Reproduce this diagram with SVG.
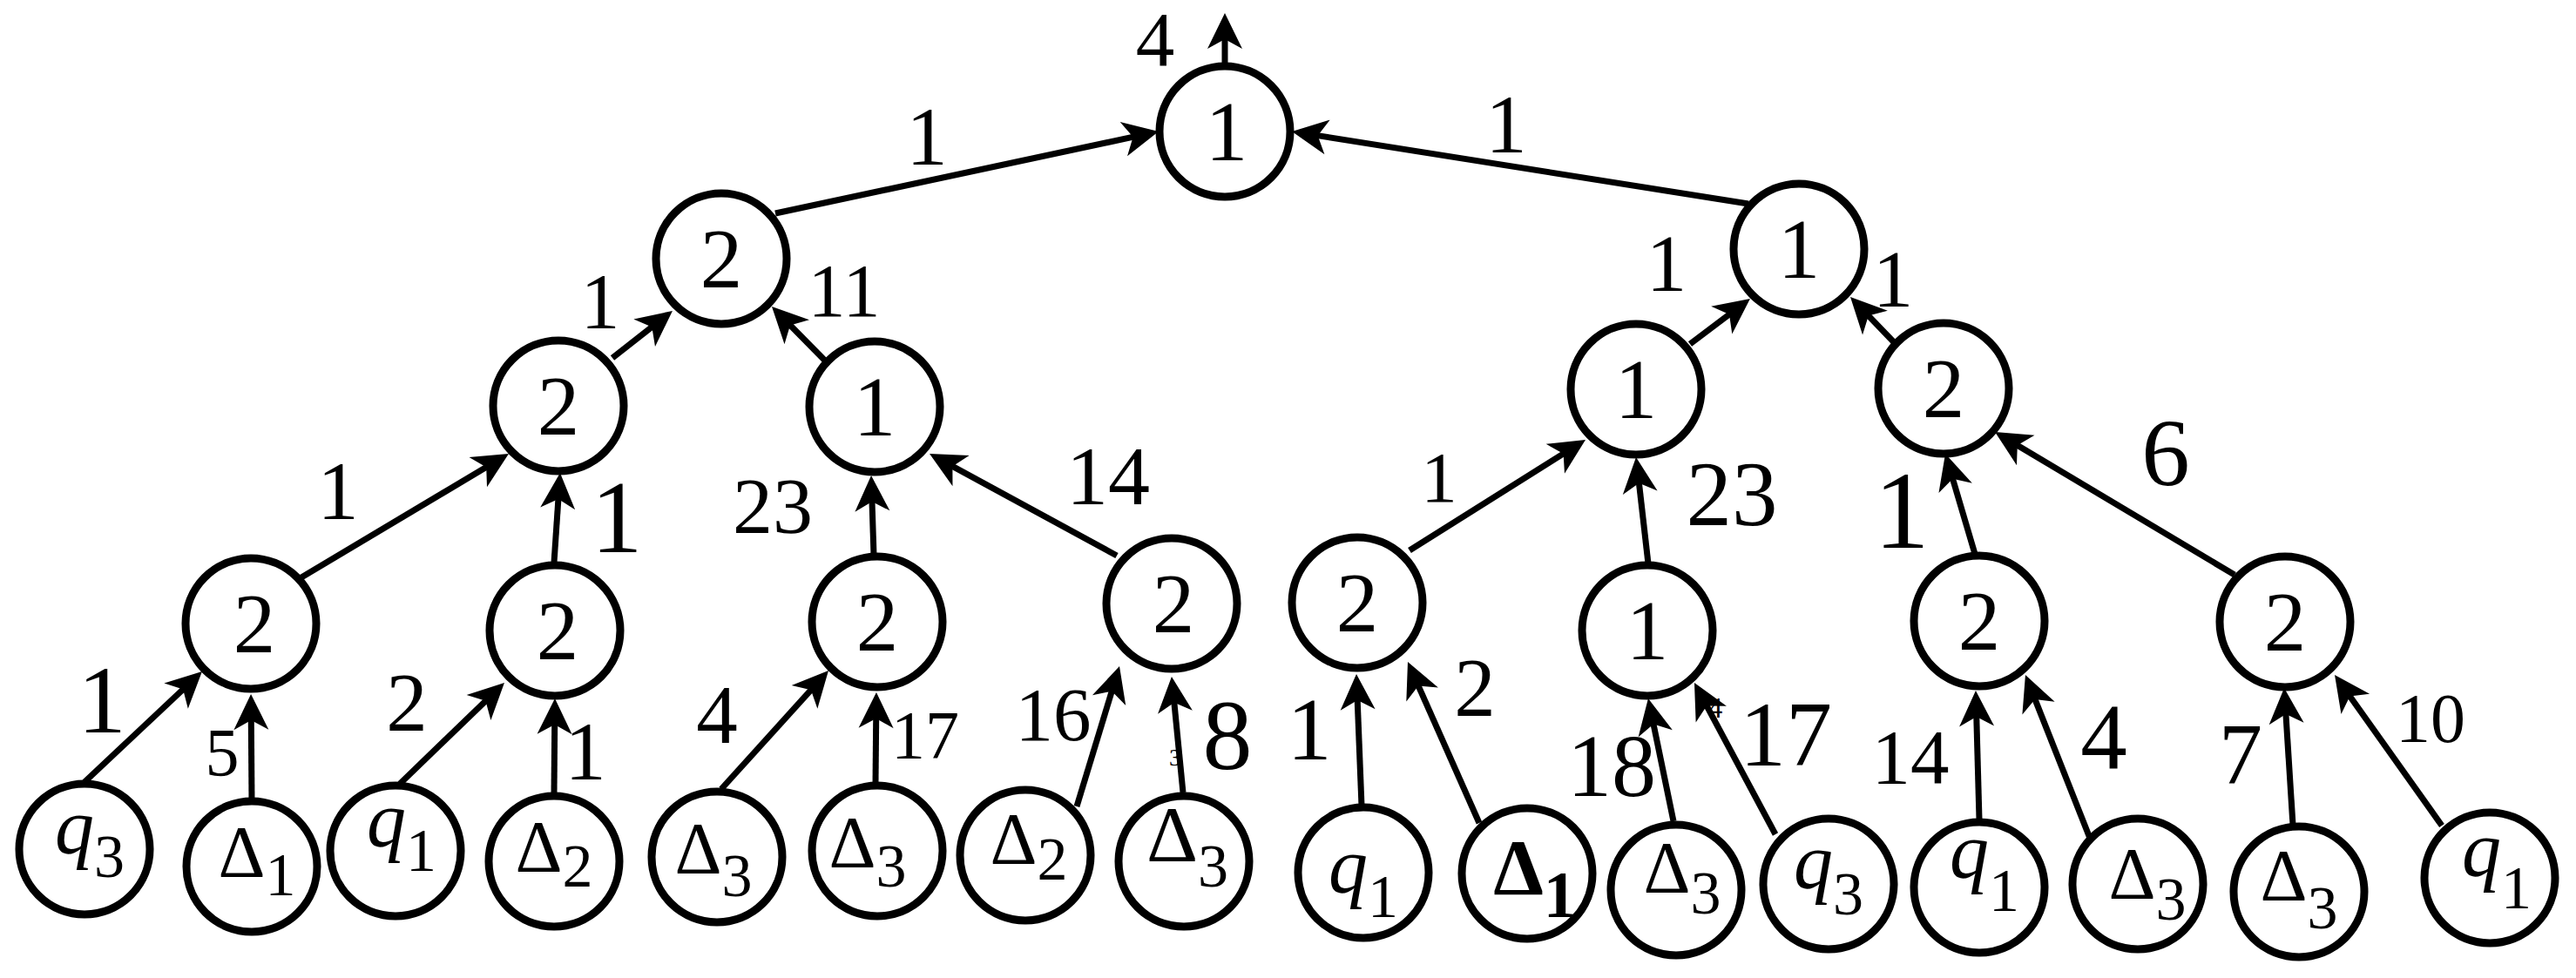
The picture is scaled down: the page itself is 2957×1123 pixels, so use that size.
<svg xmlns="http://www.w3.org/2000/svg" width="2957" height="1123" viewBox="0 0 2957 1123">
<defs>
<style>
text{font-family:"Liberation Serif","Times New Roman",Times,serif;fill:#000}
.node circle{fill:#fff;stroke:#000;stroke-width:9}
.val{font-size:97px;text-anchor:middle}
.leaf{text-anchor:middle;font-size:84px}
.qm{font-size:90px;font-style:italic}
.s{font-size:70px}
.edge{stroke:#000;stroke-width:7;fill:none;marker-end:url(#arr)}
.lbl{text-anchor:middle}
</style>
<marker id="arr" markerUnits="userSpaceOnUse" orient="auto" refX="0" refY="0" markerWidth="60" markerHeight="60" overflow="visible">
<path d="M20,0 L-21,-20 L-10,0 L-21,20 Z" fill="#000"/>
</marker>
</defs>
<rect width="2957" height="1123" fill="#fff"/>
<g id="connectors">
<line class="edge" x1="890" y1="245" x2="1310.4" y2="155.2"/>
<line class="edge" x1="2007" y1="234" x2="1502.8" y2="154.1"/>
<line class="edge" x1="1406" y1="76" x2="1406" y2="35"/>
<line class="edge" x1="703" y1="411" x2="756.2" y2="369.3"/>
<line class="edge" x1="947" y1="414" x2="900" y2="366.3"/>
<line class="edge" x1="1940" y1="395" x2="1993" y2="355"/>
<line class="edge" x1="2176" y1="395" x2="2137.9" y2="355.4"/>
<line class="edge" x1="346" y1="663" x2="566.8" y2="531.3"/>
<line class="edge" x1="636" y1="646" x2="641.6" y2="563"/>
<line class="edge" x1="1003" y1="637" x2="1000.7" y2="566"/>
<line class="edge" x1="1282" y1="638" x2="1084.6" y2="530.6"/>
<line class="edge" x1="1618" y1="632" x2="1803.1" y2="515.6"/>
<line class="edge" x1="1892" y1="647" x2="1880.3" y2="544.9"/>
<line class="edge" x1="2267" y1="636" x2="2238.7" y2="540.2"/>
<line class="edge" x1="2565" y1="660" x2="2307.2" y2="506.2"/>
<line class="edge" x1="97" y1="898" x2="217.4" y2="784.7"/>
<line class="edge" x1="289" y1="920" x2="288.2" y2="817"/>
<line class="edge" x1="459" y1="900" x2="564.6" y2="797.9"/>
<line class="edge" x1="636" y1="912" x2="636.8" y2="822"/>
<line class="edge" x1="828" y1="906" x2="937.6" y2="784.8"/>
<line class="edge" x1="1005" y1="900" x2="1005.8" y2="815"/>
<line class="edge" x1="1236" y1="926" x2="1279.2" y2="784.1"/>
<line class="edge" x1="1358" y1="910" x2="1346.9" y2="796.9"/>
<line class="edge" x1="1563" y1="925" x2="1557.8" y2="794"/>
<line class="edge" x1="1698" y1="945" x2="1624.1" y2="778.3"/>
<line class="edge" x1="1921" y1="943" x2="1896" y2="821.6"/>
<line class="edge" x1="2038" y1="958" x2="1954.4" y2="801.6"/>
<line class="edge" x1="2272" y1="941" x2="2268.5" y2="813"/>
<line class="edge" x1="2400" y1="965" x2="2332.3" y2="793.6"/>
<line class="edge" x1="2632" y1="947" x2="2623.3" y2="810"/>
<line class="edge" x1="2803" y1="948" x2="2691.6" y2="791.3"/>
<g id="edge-labels">
<text class="lbl" x="1326" y="75" font-size="89">4</text>
<text class="lbl" x="1064" y="189" font-size="95">1</text>
<text class="lbl" x="1729" y="175" font-size="95">1</text>
<text class="lbl" x="689" y="377" font-size="90">1</text>
<text class="lbl" x="969" y="363" font-size="86">11</text>
<text class="lbl" x="1913" y="334" font-size="93">1</text>
<text class="lbl" x="2173" y="352" font-size="93">1</text>
<text class="lbl" x="388" y="596" font-size="95">1</text>
<text class="lbl" x="708" y="634" font-size="118">1</text>
<text class="lbl" x="887" y="612" font-size="92">23</text>
<text class="lbl" x="1272" y="579" font-size="96">14</text>
<text class="lbl" x="1652" y="576" font-size="83">1</text>
<text class="lbl" x="1988" y="603" font-size="105">23</text>
<text class="lbl" x="2183" y="629" font-size="127">1</text>
<text class="lbl" x="2486" y="557" font-size="111">6</text>
<text class="lbl" x="117" y="841" font-size="111">1</text>
<text class="lbl" x="255" y="890" font-size="78">5</text>
<text class="lbl" x="467" y="839" font-size="95">2</text>
<text class="lbl" x="672" y="895" font-size="95">1</text>
<text class="lbl" x="823" y="853" font-size="95">4</text>
<text class="lbl" x="1062" y="870" font-size="78">17</text>
<text class="lbl" x="1209" y="850" font-size="87">16</text>
<text class="lbl" x="1349" y="879" font-size="28">3</text>
<text class="lbl" x="1409" y="883" font-size="114">8</text>
<text class="lbl" x="1503" y="872" font-size="102">1</text>
<text class="lbl" x="1693" y="822" font-size="95">2</text>
<text class="lbl" x="1850" y="914" font-size="102">18</text>
<text class="lbl" x="1969" y="824" font-size="33">4</text>
<text class="lbl" x="2050" y="879" font-size="106">17</text>
<text class="lbl" x="2193" y="899" font-size="89">14</text>
<text class="lbl" x="2415" y="883" font-size="107">4</text>
<text class="lbl" x="2572" y="899" font-size="100">7</text>
<text class="lbl" x="2790" y="852" font-size="80">10</text>
</g>
</g>
<g id="n-root" class="node"><circle cx="1406" cy="151" r="75"/><text class="val" x="1408" y="184">1</text></g>
<g id="n-L1a" class="node"><circle cx="828" cy="297" r="75"/><text class="val" x="828" y="330">2</text></g>
<g id="n-L1b" class="node"><circle cx="2065" cy="286" r="75"/><text class="val" x="2065" y="319">1</text></g>
<g id="n-L2a" class="node"><circle cx="641" cy="466" r="75"/><text class="val" x="641" y="499">2</text></g>
<g id="n-L2b" class="node"><circle cx="1004" cy="467" r="75"/><text class="val" x="1004" y="500">1</text></g>
<g id="n-L2c" class="node"><circle cx="1878" cy="447" r="75"/><text class="val" x="1878" y="480">1</text></g>
<g id="n-L2d" class="node"><circle cx="2231" cy="446" r="75"/><text class="val" x="2231" y="479">2</text></g>
<g id="n-L3a" class="node"><circle cx="288" cy="716" r="75"/><text class="val" x="292" y="749">2</text></g>
<g id="n-L3b" class="node"><circle cx="637" cy="724" r="75"/><text class="val" x="640" y="757">2</text></g>
<g id="n-L3c" class="node"><circle cx="1007" cy="714" r="75"/><text class="val" x="1007" y="747">2</text></g>
<g id="n-L3d" class="node"><circle cx="1345" cy="693" r="75"/><text class="val" x="1347" y="726">2</text></g>
<g id="n-L3e" class="node"><circle cx="1558" cy="692" r="75"/><text class="val" x="1558" y="725">2</text></g>
<g id="n-L3f" class="node"><circle cx="1891" cy="724" r="75"/><text class="val" x="1891" y="757">1</text></g>
<g id="n-L3g" class="node"><circle cx="2272" cy="713" r="75"/><text class="val" x="2272" y="746">2</text></g>
<g id="n-L3h" class="node"><circle cx="2623" cy="714" r="75"/><text class="val" x="2623" y="747">2</text></g>
<g id="n-leaf1" class="node"><circle cx="97" cy="975" r="75"/><text class="leaf" x="103" y="980"><tspan class="qm">q</tspan><tspan class="s" dy="27">3</tspan></text></g>
<g id="n-leaf2" class="node"><circle cx="289" cy="995" r="75"/><text class="leaf" x="295" y="1007">Δ<tspan class="s" dy="21">1</tspan></text></g>
<g id="n-leaf3" class="node"><circle cx="454" cy="977" r="75"/><text class="leaf" x="461" y="972"><tspan class="qm">q</tspan><tspan class="s" dy="28">1</tspan></text></g>
<g id="n-leaf4" class="node"><circle cx="636" cy="989" r="75"/><text class="leaf" x="636" y="1001">Δ<tspan class="s" dy="17">2</tspan></text></g>
<g id="n-leaf5" class="node"><circle cx="823" cy="984" r="75"/><text class="leaf" x="819" y="1003">Δ<tspan class="s" dy="26">3</tspan></text></g>
<g id="n-leaf6" class="node"><circle cx="1007" cy="977" r="75"/><text class="leaf" x="996" y="996">Δ<tspan class="s" dy="22">3</tspan></text></g>
<g id="n-leaf7" class="node"><circle cx="1177" cy="982" r="75"/><text class="leaf" x="1181" y="992">Δ<tspan class="s" dy="18">2</tspan></text></g>
<g id="n-leaf8" class="node"><circle cx="1359" cy="989" r="75"/><text class="leaf" x="1363" y="989"><tspan font-size="92">Δ</tspan><tspan class="s" dy="29">3</tspan></text></g>
<g id="n-leaf9" class="node"><circle cx="1565" cy="1002" r="75"/><text class="leaf" x="1565" y="1025"><tspan class="qm">q</tspan><tspan class="s" dy="28">1</tspan></text></g>
<g id="n-leaf10" class="node"><circle cx="1753" cy="1003" r="75"/><text class="leaf" x="1762" y="1027" font-weight="bold"><tspan font-size="92">Δ</tspan><tspan font-size="76" dy="26">1</tspan></text></g>
<g id="n-leaf11" class="node"><circle cx="1924" cy="1022" r="75"/><text class="leaf" x="1931" y="1025">Δ<tspan class="s" dy="24">3</tspan></text></g>
<g id="n-leaf12" class="node"><circle cx="2099" cy="1015" r="75"/><text class="leaf" x="2099" y="1020"><tspan class="qm">q</tspan><tspan class="s" dy="30">3</tspan></text></g>
<g id="n-leaf13" class="node"><circle cx="2272" cy="1019" r="75"/><text class="leaf" x="2278" y="1008"><tspan class="qm">q</tspan><tspan class="s" dy="38">1</tspan></text></g>
<g id="n-leaf14" class="node"><circle cx="2454" cy="1015" r="75"/><text class="leaf" x="2465" y="1032">Δ<tspan class="s" dy="24">3</tspan></text></g>
<g id="n-leaf15" class="node"><circle cx="2639" cy="1024" r="75"/><text class="leaf" x="2639" y="1034">Δ<tspan class="s" dy="32">3</tspan></text></g>
<g id="n-leaf16" class="node"><circle cx="2858" cy="1008" r="75"/><text class="leaf" x="2866" y="1006"><tspan class="qm">q</tspan><tspan class="s" dy="37">1</tspan></text></g>
</svg>
